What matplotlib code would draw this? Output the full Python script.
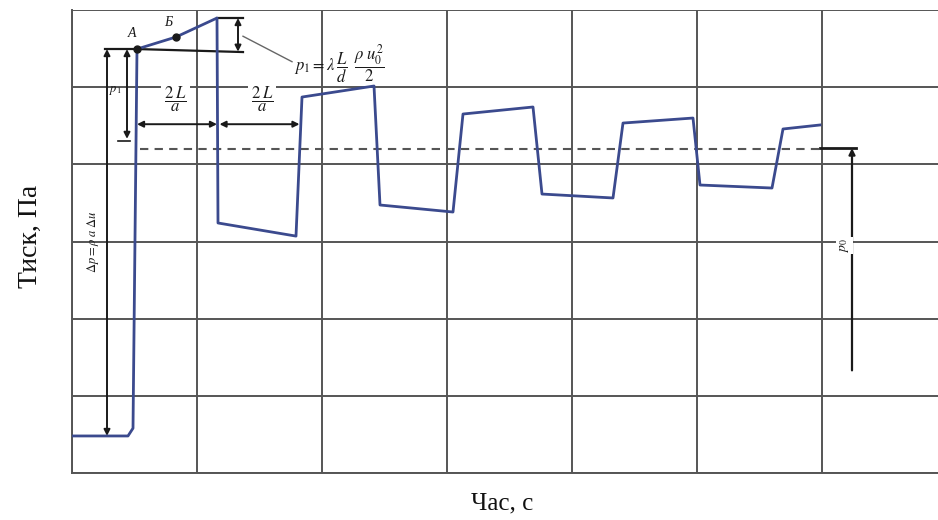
import matplotlib
matplotlib.use('Agg')
import matplotlib.pyplot as plt
import numpy as np

plt.rcParams['mathtext.fontset'] = 'stix'

# ---- data (time in grid units, pressure in grid units) ----
time_pts = [0.0, 0.448, 0.488, 0.52, 0.832, 1.16, 1.168, 1.792, 1.84, 2.416, 2.464,
            3.048, 3.128, 3.688, 3.76, 4.328, 4.408, 4.968, 5.024, 5.6, 5.688, 5.984]
pressure_pts = [0.48, 0.48, 0.58, 5.494, 5.65, 5.896, 3.24, 3.07, 4.872, 5.015, 3.473,
                3.382, 4.652, 4.743, 3.615, 3.564, 4.535, 4.6, 3.732, 3.693, 4.458, 4.51]
point_A = (0.52, 5.494)
point_B = (0.832, 5.65)
p0_level = 4.21
dash_start, dash_end = 0.544, 5.984
x_ticks = [0, 1, 2, 3, 4, 5, 6]
y_ticks = [0, 1, 2, 3, 4, 5, 6]
x_label = "Час, с"
y_label = "Тиск, Па"

W, H = 938, 520
fig = plt.figure(figsize=(W / 100, H / 100), dpi=100)
fig.patch.set_facecolor('white')
left, right, bottom, top = 72, 945, 473, 10
ax = fig.add_axes([left / W, 1 - bottom / H, (right - left) / W, (bottom - top) / H])
ax.set_xlim(0, (right - left) / 125)
ax.set_ylim(0, 6)

grid_c = '#555555'
ax.set_xticks(x_ticks)
ax.set_yticks(y_ticks)
ax.tick_params(length=0, labelbottom=False, labelleft=False)
ax.grid(True, color=grid_c, lw=1.4)
for s in ['right', 'top']:
    ax.spines[s].set_visible(False)
for s in ['left', 'bottom']:
    ax.spines[s].set_color(grid_c)
    ax.spines[s].set_linewidth(1.4)
ax.axhline(6.06, color='#a0a0a0', lw=1.0)

ink = '#1a1a1a'
blue = '#3b4a8e'

# dashed steady-state line
ax.plot([dash_start, dash_end], [4.2, 4.2], color='#555555', lw=1.5, dashes=(4, 3), zorder=3)

# main pressure curve
ax.plot(time_pts, pressure_pts, color=blue, lw=2.0, solid_joinstyle='round', zorder=5)

# points A and B
ax.plot([point_A[0], point_B[0]], [point_A[1], point_B[1]], 'o', color=ink, ms=5, zorder=6)
ax.text(point_A[0] - 0.04, point_A[1] + 0.12, 'A', fontsize=10, style='italic',
        family='Liberation Serif', ha='center', va='bottom', color=ink)
ax.text(point_B[0] - 0.06, point_B[1] + 0.1, 'Б', fontsize=10, style='italic',
        family='Liberation Serif', ha='center', va='bottom', color=ink)

arrow_kw = dict(arrowstyle='<|-|>', color=ink, lw=1.4, mutation_scale=9,
                shrinkA=0, shrinkB=0)

# left annotations
ax.plot([0.264, point_A[0]], [point_A[1], point_A[1]], color=ink, lw=1.6, zorder=4)
ax.annotate('', xy=(0.28, point_A[1]), xytext=(0.28, 0.48), arrowprops=arrow_kw)
ax.text(0.17, 3.0, r'$\Delta p=\rho\;a\;\Delta u$', rotation=90, fontsize=9,
        ha='center', va='center', color=ink)
ax.annotate('', xy=(0.44, point_A[1]), xytext=(0.44, 4.33), arrowprops=arrow_kw)
ax.plot([0.37, 0.46], [4.3, 4.3], color=ink, lw=1.2)
ax.text(0.35, 4.96, r'$p_1$', fontsize=9, ha='center', va='center', color=ink)

# friction bracket
ax.plot([point_A[0], 1.368], [point_A[1], 5.455], color=ink, lw=1.6, zorder=4)
ax.plot([1.16, 1.368], [5.896, 5.896], color=ink, lw=1.6, zorder=4)
ax.annotate('', xy=(1.328, 5.896), xytext=(1.328, 5.46), arrowprops=arrow_kw)
ax.plot([1.368, 1.76], [5.66, 5.33], color='#666666', lw=1.0)
ax.text(1.78, 5.3, r'$p_1=\lambda\,\dfrac{L}{d}\;\;\dfrac{\rho\ u_0^2}{2}$', fontsize=12,
        ha='left', va='center', color=ink)

# 2L/a intervals
ax.annotate('', xy=(0.52, 4.52), xytext=(1.16, 4.52), arrowprops=arrow_kw)
ax.annotate('', xy=(1.18, 4.52), xytext=(1.82, 4.52), arrowprops=arrow_kw)
for xc in [0.83, 1.52]:
    ax.text(xc, 4.84, r'$\dfrac{2\;L}{a}$', fontsize=12, ha='center', va='center',
            color=ink, bbox=dict(facecolor='white', edgecolor='none', pad=2), zorder=4)

# p0 marker on the right
ax.plot([5.984, 6.27], [p0_level, p0_level], color=ink, lw=2.0)
ax.annotate('', xy=(6.24, p0_level), xytext=(6.24, 1.33),
            arrowprops=dict(arrowstyle='-|>', color=ink, lw=1.6, mutation_scale=9,
                            shrinkA=0, shrinkB=0))
ax.text(6.18, 2.95, r'$p_0$', rotation=90, fontsize=10, ha='center', va='center', color=ink,
        bbox=dict(facecolor='white', edgecolor='none', pad=1))

# axis titles
fig.text(30 / W, 1 - 236 / H, y_label, rotation=90, fontsize=20, family='Liberation Serif',
         ha='center', va='center', color='#111111')
fig.text(502 / W, 1 - 503 / H, x_label, fontsize=18, family='Liberation Serif',
         ha='center', va='center', color='#111111')

fig.savefig('out.png', dpi=100, facecolor='white')
